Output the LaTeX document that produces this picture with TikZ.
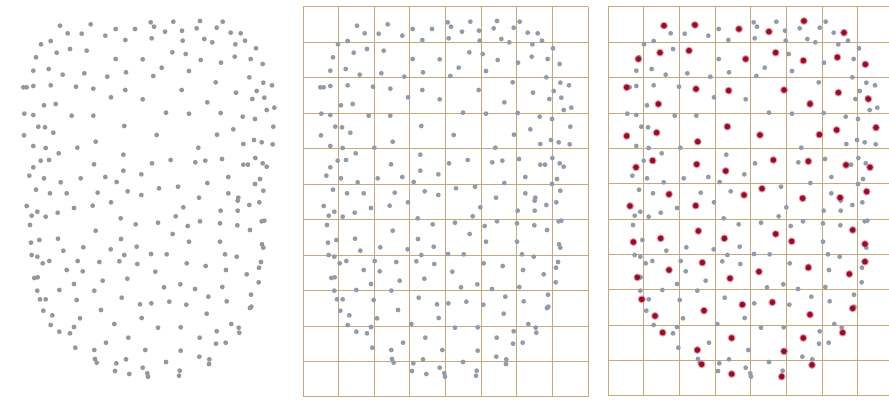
\documentclass[tikz,border=0pt]{standalone}
\usetikzlibrary{calc}
\definecolor{dotgrey}{RGB}{150,150,155}
\definecolor{dotblue}{RGB}{145,155,170}
\definecolor{gridtan}{RGB}{195,168,128}
\definecolor{reddot}{RGB}{145,15,45}
\definecolor{redhalo}{RGB}{225,90,110}
\tikzset{
  greydot/.style={fill=dotgrey},
  bluedot/.style={fill=dotblue},
  gridline/.style={draw=gridtan, line width=1pt},
  redcore/.style={fill=reddot},
  redglow/.style={fill=redhalo, opacity=0.6}
}
\newcommand\ptsTop{180/77, 272/73, 452/67, 462/80, 520/65, 600/63, 668/65,
203/100, 245/101, 347/87, 405/87, 495/95, 546/92, 590/85, 650/83, 692/98, 722/100,
123/133, 152/123, 316/107, 376/120, 455/115, 548/122, 613/117, 637/127, 706/133, 735/122,
170/158, 210/147, 260/152, 517/157, 557/162, 768/145,
108/172, 347/177, 428/178, 602/180, 663/188, 704/170, 752/177, 788/192,
100/212, 146/207, 188/224, 253/220, 322/230, 378/217, 460/228, 485/203, 567/213, 748/232,
70/262, 80/262, 100/258, 152/256, 228/260, 280/266, 376/270, 545/270, 647/247, 708/278, 770/273, 790/248, 816/256,
132/316, 167/312, 333/292, 428/298, 622/307, 757/297, 793/293, 800/330, 823/323,
73/341, 100/345, 215/347, 280/347, 498/338, 567/341, 662/339, 728/350, 765/357,
115/380, 135/382, 160/398, 72/406, 373/378, 470/405, 651/404, 700/388, 820/380,
100/438, 137/444, 232/443, 287/425, 595/443, 730/432, 762/420, 785/427, 818/433,
176/460, 122/482, 147/480, 370/464, 282/493, 456/490, 512/480, 586/487, 616/482, 666/477, 730/494, 744/494, 766/474, 788/490, 800/500,
100/502, 88/527, 132/535, 182/547, 242/535, 316/531, 350/546, 370/512, 424/523, 622/549, 685/531, 765/552, 780/537,
108/569, 150/580, 200/580, 293/578, 383/574, 424/585, 477/565, 534/560, 597/593, 685/580, 715/593, 790/572}
\newcommand\ptsBot{80/18, 222/24, 278/17, 333/7, 550/22, 713/2, 748/15, 778/7,
95/47, 112/35, 137/50, 173/38, 362/55, 407/73, 474/68, 527/49, 563/78, 600/64, 662/32, 660/70, 713/32, 712/76, 750/90, 785/64, 793/62,
90/75, 287/92, 518/102,
93/128, 118/120, 174/116, 363/117, 190/152, 250/142, 332/148, 410/140, 567/125, 660/125, 786/133, 790/143,
95/165, 112/170, 128/190, 148/183, 233/183, 298/186, 358/184, 373/165, 412/192, 453/162, 500/163, 560/190, 617/198, 675/163, 710/170, 783/186,
200/210, 248/214, 466/215, 678/210, 740/223, 777/203,
103/234, 113/232, 382/236, 308/242, 222/252, 492/262, 541/253, 585/267, 667/261, 776/247,
112/272, 178/270, 283/272, 625/290, 680/304, 753/284,
120/298, 137/298, 230/300, 365/293, 420/313, 454/310, 508/305, 559/314, 750/324, 754/320,
130/332, 157/346, 240/355, 303/330, 425/354, 620/341,
152/375, 222/381, 343/372, 474/383, 542/382, 694/372, 716/383, 718/398,
178/395, 210/400, 599/413, 650/394, 677/428, 648/431,
226/443, 318/428, 385/413, 436/450, 542/452, 283/450,
285/477, 290/488, 349/490, 378/478, 498/486, 598/470, 628/478, 627/492,
345/513, 388/522, 428/503, 442/520, 444/530, 539/512, 537/527}
\newcommand\redTop{222/77, 315/75, 447/87, 537/95, 642/63, 762/98,
145/177, 210/158, 297/152, 467/177, 557/158, 640/182, 742/172, 826/193,
110/262, 205/312, 318/267, 416/272, 582/270, 660/312, 745/278, 835/297,
110/408, 200/398, 323/425, 412/380, 510/405, 688/404, 740/390, 858/383,
138/502, 188/482, 320/493, 407/513, 550/480, 655/484, 768/495, 840/502,
237/583, 462/585, 516/566, 638/595, 750/593, 830/575}
\newcommand\redBot{120/18, 317/17,
130/126, 212/115, 325/93, 403/115, 557/102, 605/124, 788/90, 825/132,
142/232, 237/210, 337/188, 420/235, 507/215, 655/203, 778/222, 825/185,
155/298, 195/348, 342/332, 457/314, 547/307, 660/344, 788/325,
218/398, 322/450, 425/414, 582/454, 640/414, 758/398,
335/493, 425/522, 575/530, 666/495}
\begin{document}
\begin{tikzpicture}[x=1pt,y=-1pt]
\useasboundingbox (0,0) rectangle (889,401);
\fill[white] (0,0) rectangle (889,401);
% grid panel 2
\foreach \i in {0,...,8} {\draw[gridline] ({303+\i*35.625},7) -- ({303+\i*35.625},397);}
\foreach \j in {0,...,11} {\draw[gridline] (303,{7+\j*35.45}) -- (588,{7+\j*35.45});}
% grid panel 3
\foreach \i in {0,...,8} {\draw[gridline] ({608+\i*35.7},7) -- ({608+\i*35.7},396);}
\foreach \j in {0,...,11} {\draw[gridline] (608,{7+\j*35.36}) -- (893.6,{7+\j*35.36});}
% points in three panels
\foreach \dx/\sty in {0/greydot, 297/bluedot, 603/bluedot} {
  \foreach \x/\y in \ptsTop {\fill[\sty] ({\x/3+\dx},{\y/3}) circle (2.4);}
  \foreach \x/\y in \ptsBot {\fill[\sty] ({\x/3+\dx},{200+\y/3}) circle (2.4);}
}
% red selected points
\foreach \x/\y in \redTop {
  \fill[redglow] ({590+\x/3},{\y/3}) circle (4);
  \fill[redcore] ({590+\x/3},{\y/3}) circle (2.8);}
\foreach \x/\y in \redBot {
  \fill[redglow] ({590+\x/3},{200+\y/3}) circle (4);
  \fill[redcore] ({590+\x/3},{200+\y/3}) circle (2.8);}
\end{tikzpicture}
\end{document}
